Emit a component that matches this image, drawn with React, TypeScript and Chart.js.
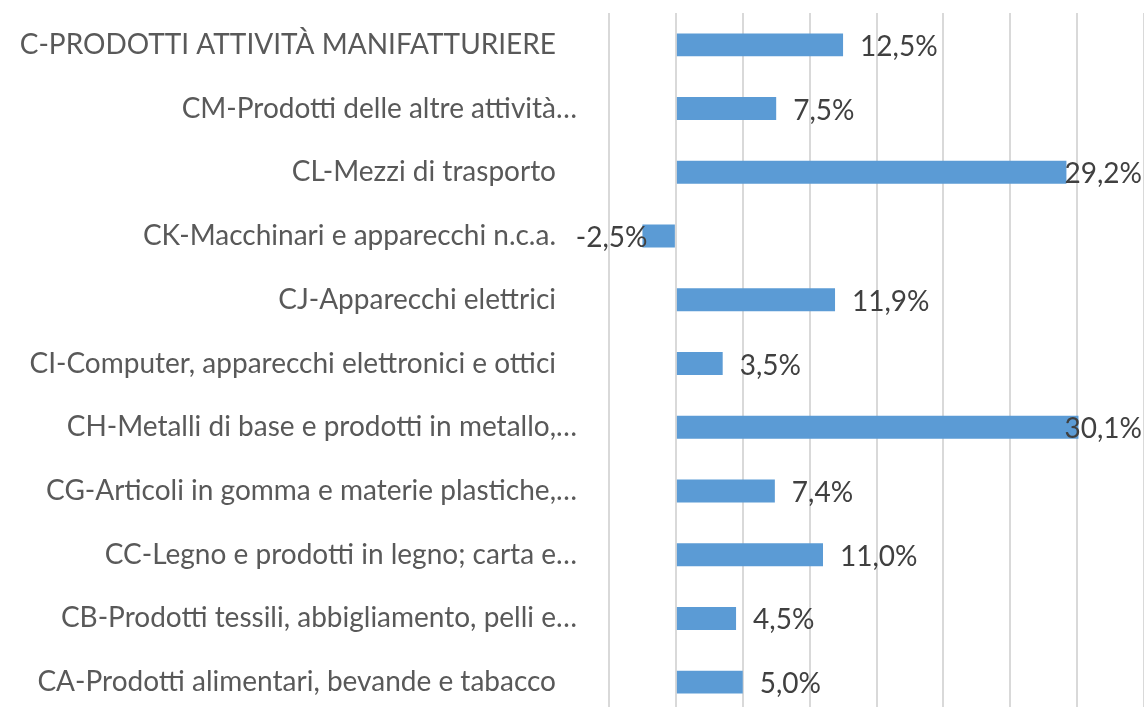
import React, { useEffect, useRef } from "react";
import { Chart, registerables } from "chart.js";

Chart.register(...registerables);

const categories: string[] = [
  "C-PRODOTTI ATTIVITÀ MANIFATTURIERE",
  "CM-Prodotti delle altre attività…",
  "CL-Mezzi di trasporto",
  "CK-Macchinari e apparecchi n.c.a.",
  "CJ-Apparecchi elettrici",
  "CI-Computer, apparecchi elettronici e ottici",
  "CH-Metalli di base e prodotti in metallo,…",
  "CG-Articoli in gomma e materie plastiche,…",
  "CC-Legno e prodotti in legno; carta e…",
  "CB-Prodotti tessili, abbigliamento, pelli e…",
  "CA-Prodotti alimentari, bevande e tabacco",
];

const values: number[] = [12.5, 7.5, 29.2, -2.5, 11.9, 3.5, 30.1, 7.4, 11.0, 4.5, 5.0];

const xMin = -5;
const xMax = 35;
const xStep = 5;

const FONT = "Lato, 'Open Sans', sans-serif";

function fmt(v: number): string {
  return v.toFixed(1).replace(".", ",") + "%";
}

const dataLabelPlugin = {
  id: "dataLabels",
  afterDatasetsDraw(chart: any) {
    const { ctx, chartArea } = chart;
    const meta = chart.getDatasetMeta(0);
    ctx.save();
    ctx.font = `28px ${FONT}`;
    ctx.fillStyle = "#404040";
    ctx.textBaseline = "middle";
    meta.data.forEach((bar: any, i: number) => {
      const v = values[i];
      const txt = fmt(v);
      const w = ctx.measureText(txt).width;
      let x: number;
      if (v >= 0) {
        x = bar.x + 17;
        if (x + w > chartArea.right - 2) x = chartArea.right - 2 - w;
      } else {
        x = bar.x + 5 - w;
      }
      ctx.textAlign = "left";
      ctx.fillText(txt, x, bar.y + 2);
    });
    ctx.restore();
  },
};

export default function App() {
  const ref = useRef<HTMLCanvasElement | null>(null);
  useEffect(() => {
    if (!ref.current) return;
    const chart = new Chart(ref.current, {
      type: "bar",
      data: {
        labels: categories,
        datasets: [
          {
            data: values,
            backgroundColor: "#5B9BD5",
            borderWidth: 0,
            barPercentage: 0.36,
            categoryPercentage: 1,
          },
        ],
      },
      options: {
        indexAxis: "y",
        animation: false,
        responsive: false,
        maintainAspectRatio: false,
        layout: { padding: { top: 13, bottom: 0, left: 0, right: 0 } },
        plugins: { legend: { display: false }, tooltip: { enabled: false } },
        scales: {
          x: {
            min: xMin,
            max: xMax,
            ticks: { display: false, stepSize: xStep },
            grid: { color: "#d9d9d9", lineWidth: 2, drawTicks: false },
            border: { display: false },
            afterFit: (s: any) => {
              s.height = 0;
              s.paddingLeft = 0;
              s.paddingRight = 0;
            },
          },
          y: {
            grid: { display: false },
            border: { display: false },
            ticks: {
              color: "#595959",
              font: { family: FONT, size: 28 },
              padding: 24,
              callback: (_v: any, i: number) => {
                const l = categories[i];
                return l.endsWith("…") ? l : l + "\u2003";
              },
            },
            afterFit: (s: any) => {
              s.width = 609;
              s.paddingTop = 0;
              s.paddingBottom = 0;
            },
          },
        },
      },
      plugins: [dataLabelPlugin],
    });
    return () => chart.destroy();
  }, []);
  return (
    <div
      style={{
        position: "fixed",
        left: 0,
        top: 0,
        width: 1144,
        height: 707,
        overflow: "hidden",
        background: "#fff",
      }}
    >
      <canvas ref={ref} width={1144} height={714} style={{ display: "block" }} />
    </div>
  );
}
